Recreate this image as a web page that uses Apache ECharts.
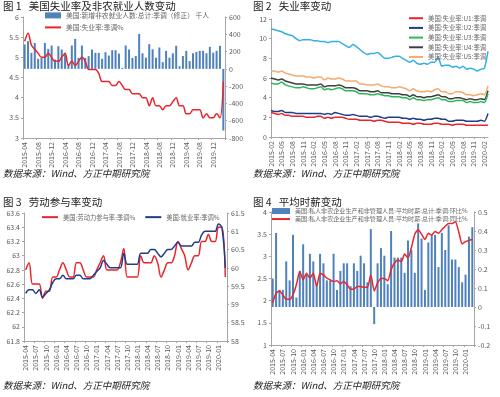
<!DOCTYPE html>
<html>
<head>
<meta charset="utf-8">
<script src="https://cdn.jsdelivr.net/npm/echarts@6/dist/echarts.min.js"></script>
<style>
  * { margin: 0; padding: 0; }
  body { background: #fff; }
  #chart { width: 500px; height: 397px; }
</style>
</head>
<body>
<div id="chart"></div>
<script>
  // month labels
  function months(y, m, n) {
    var out = []
    for (var i = 0; i < n; i++) {
      out.push(y + '-' + (m < 10 ? '0' + m : m))
      m++
      if (m > 12) { m = 1; y++ }
    }
    return out
  }
  var cats1 = months(2015, 4, 60)
  var cats2 = months(2015, 2, 62)
  var cats34 = months(2015, 4, 60)

  // 图1
  var payrolls = [282, 320, 185, 300, 116, 127, 300, 231, 270, 108, 262, 224, 185, 50, 270, 347, 127, 270, 127, 147,
    224, 185, 185, 116, 193, 154, 216, 216, 177, 12, 270, 224, 127, 150, 404, 180, 130, 286, 227, 129,
    247, 78, 208, 129, 180, 267, 30, 149, 208, 90, 180, 196, 208, 208, 180, 255, 188, 208, 267, -713]
  var unrate = [5.4, 5.6, 5.3, 5.2, 5.1, 5.0, 5.0, 5.1, 5.0,
    4.9, 4.9, 5.0, 5.1, 4.8, 4.9, 4.8, 4.9, 5.0, 4.9, 4.7, 4.7,
    4.7, 4.6, 4.4, 4.4, 4.4, 4.3, 4.3, 4.4, 4.3, 4.2, 4.2, 4.1,
    4.1, 4.1, 4.0, 4.0, 3.8, 4.0, 3.8, 3.8, 3.7, 3.8, 3.8, 3.9,
    4.0, 3.8, 3.8, 3.6, 3.6, 3.7, 3.7, 3.7, 3.5, 3.6, 3.5, 3.5,
    3.6, 3.5, 4.4]

  // 图2
  var u1 = [2.5, 2.4, 2.3, 2.4, 2.2, 2.2, 2.1, 2.1, 2.1, 2.1, 2.0,
    2.0, 2.0, 2.1, 2.1, 1.9, 2.0, 1.9, 2.0, 2.0, 2.0, 1.9, 1.8,
    1.8, 1.8, 1.7, 1.7, 1.7, 1.7, 1.6, 1.7, 1.7, 1.6, 1.5, 1.5,
    1.5, 1.5, 1.4, 1.4, 1.4, 1.3, 1.4, 1.4, 1.3, 1.3, 1.3, 1.4,
    1.4, 1.3, 1.3, 1.3, 1.2, 1.3, 1.3, 1.3, 1.2, 1.2, 1.2, 1.2,
    1.2, 1.2, 1.2]
  var u2 = [2.7, 2.6, 2.6, 2.7, 2.5, 2.5, 2.5, 2.4, 2.4, 2.4, 2.4,
    2.4, 2.4, 2.4, 2.4, 2.3, 2.4, 2.3, 2.5, 2.4, 2.3, 2.2, 2.2,
    2.3, 2.2, 2.1, 2.1, 2.1, 2.0, 2.1, 2.1, 2.0, 1.9, 2.0, 2.0,
    2.0, 2.0, 1.9, 1.9, 1.8, 1.9, 1.8, 1.8, 1.7, 1.8, 1.8, 1.9,
    1.9, 1.8, 1.8, 1.6, 1.6, 1.7, 1.7, 1.7, 1.6, 1.6, 1.6, 1.6,
    1.7, 1.6, 2.4]
  var u3 = [5.5, 5.4, 5.4, 5.6, 5.3, 5.2, 5.1, 5.0, 5.0, 5.1, 5.0,
    4.9, 4.9, 5.0, 5.1, 4.8, 4.9, 4.8, 4.9, 5.0, 4.9, 4.7, 4.7,
    4.7, 4.6, 4.4, 4.4, 4.4, 4.3, 4.3, 4.4, 4.3, 4.2, 4.2, 4.1,
    4.1, 4.1, 4.0, 4.0, 3.8, 4.0, 3.8, 3.8, 3.7, 3.8, 3.8, 3.9,
    4.0, 3.8, 3.8, 3.6, 3.6, 3.7, 3.7, 3.7, 3.5, 3.6, 3.5, 3.5,
    3.6, 3.5, 4.4]
  var u4 = [6.0, 5.9, 5.8, 5.9, 5.7, 5.6, 5.5, 5.4, 5.4, 5.4, 5.3,
    5.3, 5.3, 5.3, 5.4, 5.1, 5.2, 5.2, 5.2, 5.3, 5.2, 5.0, 5.0,
    5.0, 4.9, 4.7, 4.7, 4.7, 4.6, 4.6, 4.7, 4.5, 4.5, 4.5, 4.4,
    4.4, 4.4, 4.3, 4.3, 4.1, 4.3, 4.1, 4.1, 4.0, 4.1, 4.1, 4.2,
    4.3, 4.1, 4.1, 3.9, 3.9, 4.0, 4.0, 3.9, 3.8, 3.9, 3.8, 3.8,
    3.9, 3.8, 4.7]
  var u5 = [6.7, 6.7, 6.6, 6.7, 6.5, 6.4, 6.3, 6.2, 6.2, 6.2, 6.1,
    6.1, 6.0, 6.1, 6.1, 5.8, 6.0, 5.9, 5.9, 6.0, 5.9, 5.7, 5.7,
    5.7, 5.7, 5.4, 5.4, 5.3, 5.3, 5.3, 5.4, 5.2, 5.1, 5.1, 5.0,
    5.0, 5.1, 5.0, 4.9, 4.7, 4.9, 4.7, 4.6, 4.6, 4.7, 4.6, 4.8,
    4.9, 4.6, 4.6, 4.4, 4.4, 4.6, 4.6, 4.5, 4.3, 4.3, 4.2, 4.3,
    4.4, 4.3, 5.2]
  var u6 = [11.0, 10.9, 10.8, 10.7, 10.5, 10.4, 10.3, 10.0, 9.8, 9.9, 9.9,
    9.9, 9.8, 9.8, 9.7, 9.7, 9.6, 9.7, 9.7, 9.7, 9.5, 9.3, 9.1,
    9.4, 9.2, 8.9, 8.6, 8.4, 8.5, 8.5, 8.6, 8.3, 8.0, 8.0, 8.1,
    8.2, 8.2, 8.0, 7.8, 7.6, 7.8, 7.5, 7.4, 7.5, 7.4, 7.6, 7.6,
    8.1, 7.2, 7.3, 7.3, 7.1, 7.2, 7.0, 7.2, 6.9, 7.0, 6.9, 6.7,
    6.9, 7.0, 8.7]

  // 图3
  var lfpr = [62.8, 62.9, 62.6, 62.6, 62.6, 62.4, 62.5, 62.5, 62.7,
    62.7, 62.8, 62.9, 62.8, 62.7, 62.7, 62.9, 62.9, 62.8, 62.7, 62.7, 62.7,
    62.8, 62.9, 63.0, 62.8, 62.8, 62.8, 62.8, 62.9, 63.1, 62.7, 62.7, 62.7,
    62.7, 63.0, 62.9, 62.9, 62.9, 63.0, 62.9, 62.7, 62.8, 62.9, 62.9, 63.0,
    63.2, 63.1, 63.0, 62.8, 62.9, 63.0, 63.0, 63.2, 63.2, 63.3, 63.2, 63.2,
    63.4, 63.4, 62.7]
  var emp = [59.3, 59.4, 59.4, 59.3, 59.4, 59.2, 59.3, 59.4, 59.6,
    59.7, 59.7, 59.8, 59.7, 59.7, 59.7, 59.8, 59.8, 59.7, 59.7, 59.7, 59.8,
    59.9, 60.0, 60.2, 60.1, 60.0, 60.0, 60.0, 60.0, 60.4, 60.1, 60.1, 60.1,
    60.1, 60.4, 60.4, 60.4, 60.5, 60.5, 60.4, 60.3, 60.4, 60.5, 60.5, 60.6,
    60.7, 60.6, 60.6, 60.6, 60.6, 60.7, 60.7, 60.9, 61.0, 61.0, 61.0, 61.0,
    61.2, 61.1, 60.0]

  // 图4
  var wageMoM = [0.15, 0.39, 0.09, 0.09, 0.24, 0.14, 0.38, 0.05, 0.19, 0.33,
    0.17, 0.28, 0.24, 0.12, 0.28, 0.23, 0.14, 0.14, 0.28, 0.09,
    0.19, 0.23, 0.23, 0.11, 0.23, 0.19, 0.27, 0.23, 0.13, 0.41,
    -0.09, 0.23, 0.31, 0.27, 0.12, 0.40, 0.26, 0.26, 0.26, 0.18,
    0.35, 0.30, 0.18, 0.44, 0.36, 0.09, 0.34, 0.38, 0.38, 0.21,
    0.39, 0.30, 0.43, 0.25, 0.25, 0.21, 0.13, 0.17, 0.37, 0.42]
  var wageYoY = [1.95, 2.17, 2.22, 2.13, 2.03, 2.03, 2.13, 2.36, 2.66, 2.47,
    2.62, 2.51, 2.62, 2.32, 2.62, 2.58, 2.51, 2.47, 2.43, 2.45,
    2.38, 2.43, 2.36, 2.26, 2.26, 2.32, 2.32, 2.30, 2.30, 2.58,
    2.22, 2.40, 2.50, 2.50, 2.45, 2.70, 2.85, 2.92, 2.88, 3.05,
    2.96, 3.20, 3.50, 3.60, 3.50, 3.38, 3.52, 3.48, 3.56, 3.52,
    3.60, 3.68, 3.74, 3.74, 3.78, 3.55, 3.28, 3.33, 3.36, 3.38]

  var RED = '#E8262C', BLUE = '#4F81BD', NAVY = '#1F3C88'
  var labelStyle = { fontSize: 7, color: '#595959', fontFamily: 'Noto Sans CJK SC' }
  var axisLine = { show: true, lineStyle: { color: '#a6a6a6' } }

  function catAxis(grid, data, every) {
    return {
      type: 'category', gridIndex: grid, data: data,
      boundaryGap: grid !== 1,
      axisLine: { show: true, onZero: false, lineStyle: { color: '#a6a6a6' } },
      axisTick: { show: true, length: 2, interval: every - 1, lineStyle: { color: '#a6a6a6' } },
      axisLabel: Object.assign({ rotate: 90, interval: every - 1, margin: 4 }, labelStyle)
    }
  }
  function valAxis(grid, min, max, step, pos) {
    return {
      type: 'value', gridIndex: grid, min: min, max: max, interval: step,
      position: pos || 'left',
      splitLine: { show: false },
      axisLine: axisLine,
      axisTick: { show: true, length: 2, lineStyle: { color: '#a6a6a6' } },
      axisLabel: Object.assign({ margin: 4 }, labelStyle)
    }
  }
  function line(name, x, y, data, color, smooth) {
    return {
      type: 'line', name: name, xAxisIndex: x, yAxisIndex: y, data: data,
      showSymbol: false, symbol: 'none', smooth: smooth,
      lineStyle: { width: 1.5, color: color }, itemStyle: { color: color }
    }
  }
  function legText(size) {
    return { fontSize: size, color: '#666', fontFamily: 'Noto Sans CJK SC' }
  }
  // one legend block; lines get a thin rect icon, bars a thick one
  function legend(names, left, top, size, opts) {
    return Object.assign({
      data: names.map(function (n) { return { name: n, icon: 'rect' } }),
      orient: 'vertical', left: left, top: top,
      itemWidth: 16, itemHeight: 2, itemGap: 4, padding: 0,
      textStyle: legText(size)
    }, opts || {})
  }
  function txt(x, y, s, size, italic) {
    return {
      type: 'text', left: x, top: y,
      style: {
        text: s, fill: '#222', fontSize: size,
        fontStyle: italic ? 'italic' : 'normal',
        fontFamily: 'Noto Sans CJK SC'
      }
    }
  }

  var n1 = '美国:新增非农就业人数:总计:季调（修正） 千人'
  var n2 = '美国:失业率:季调%'
  var nu = ['美国:失业率:U1:季调', '美国:失业率:U2:季调', '美国:失业率:U3:季调', '美国:失业率:U4:季调', '美国:失业率:U5:季调']
  var n3a = '美国:劳动力参与率:季调%', n3b = '美国:就业率:季调%'
  var n4a = '美国:私人非农企业生产和非管理人员:平均时薪:总计:季调:环比%'
  var n4b = '美国:私人非农企业生产和非管理人员:平均时薪:总计:季调:同比%'

  var myChart = echarts.init(document.getElementById('chart'), null, { renderer: 'canvas' })
  var option = {
    animation: false,
    backgroundColor: '#fff',
    grid: [
      { left: 23, top: 17, width: 202, height: 121 },
      { left: 271, top: 19, width: 217, height: 118 },
      { left: 24, top: 213, width: 203, height: 128 },
      { left: 271, top: 212, width: 203, height: 133 }
    ],
    xAxis: [catAxis(0, cats1, 4), catAxis(1, cats2, 3), catAxis(2, cats34, 3), catAxis(3, cats34, 3)],
    yAxis: [
      valAxis(0, 3, 6, 0.5),
      valAxis(0, -800, 600, 200, 'right'),
      valAxis(1, 0, 12, 2),
      valAxis(2, 61.8, 63.6, 0.2),
      valAxis(2, 58, 61.5, 0.5, 'right'),
      valAxis(3, 1, 4, 0.5),
      valAxis(3, -0.2, 0.5, 0.1, 'right')
    ],
    legend: [
      legend([n1], 45, 12, 6.8, { itemHeight: 6 }),
      legend([n2], 45, 24, 6.8),
      legend(nu, 409, 15, 6.4, { itemWidth: 14, itemGap: 3.3 }),
      legend([n3a, n3b], 42, 214, 6.3, { orient: 'horizontal', itemGap: 10 }),
      legend([n4a], 272, 208, 6.1, { itemHeight: 6, itemWidth: 18 }),
      legend([n4b], 272, 216, 6.1, { itemWidth: 18 })
    ],
    graphic: [
      txt(3, 1, '图 1   美国失业率及非农就业人数变动', 10.5),
      txt(253, 1, '图 2   失业率变动', 10.5),
      txt(3, 197, '图 3   劳动参与率变动', 10.5),
      txt(253, 197, '图 4   平均时薪变动', 10.5),
      txt(3, 169, '数据来源：Wind、方正中期研究院', 9.5, true),
      txt(253, 169, '数据来源：Wind、方正中期研究院', 9.5, true),
      txt(3, 381, '数据来源：Wind、方正中期研究院', 9.5, true),
      txt(253, 381, '数据来源：Wind、方正中期研究院', 9.5, true)
    ],
    series: [
      { type: 'bar', name: n1, xAxisIndex: 0, yAxisIndex: 1, data: payrolls, barWidth: 2, itemStyle: { color: BLUE } },
      line(n2, 0, 0, unrate, RED, 0.35),
      line('美国:失业率:U6:季调', 1, 2, u6, '#33B0E0', 0.2),
      line(nu[4], 1, 2, u5, '#F6A971', 0.2),
      line(nu[3], 1, 2, u4, '#3F3F3F', 0.2),
      line(nu[2], 1, 2, u3, '#2DB75A', 0.2),
      line(nu[1], 1, 2, u2, NAVY, 0.2),
      line(nu[0], 1, 2, u1, RED, 0.2),
      line(n3a, 2, 3, lfpr, RED, 0.35),
      line(n3b, 2, 4, emp, NAVY, 0.35),
      { type: 'bar', name: n4a, xAxisIndex: 3, yAxisIndex: 6, data: wageMoM, barWidth: 2, itemStyle: { color: BLUE } },
      line(n4b, 3, 5, wageYoY, RED, 0.2)
    ]
  }
  myChart.setOption(option)
  window.addEventListener('resize', myChart.resize)
</script>
</body>
</html>
